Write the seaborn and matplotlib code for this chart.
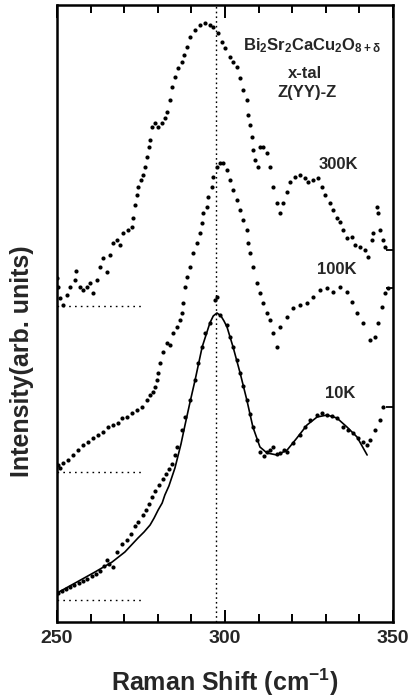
import matplotlib
matplotlib.use("Agg")
import matplotlib.pyplot as plt
import pandas as pd
import seaborn as sns

sns.set_style("ticks")
plt.rcParams['font.family'] = ['Liberation Sans', 'DejaVu Sans']
plt.rcParams['mathtext.fontset'] = 'custom'
plt.rcParams['mathtext.rm'] = 'Liberation Sans'
plt.rcParams['mathtext.bf'] = 'Liberation Sans:bold'
plt.rcParams['mathtext.it'] = 'Liberation Sans:italic'

# Raman spectra (intensity in arbitrary units, curves offset)
x_300K = [250.0, 250.3, 250.9, 251.8, 253.0, 253.9, 255.4, 255.7, 256.8, 257.7, 258.9, 259.8,
          260.7, 261.9, 262.8, 263.7, 264.9, 265.8, 266.7, 267.9, 268.8, 269.6, 271.1, 272.3,
          272.6, 273.2, 273.8, 274.1, 275.0, 275.6, 276.2, 276.8, 277.4, 277.7, 278.3, 279.2,
          280.1, 281.2, 282.1, 282.7, 283.6, 284.2, 285.1, 286.0, 287.2, 287.8, 288.7, 289.6,
          291.1, 292.6, 294.0, 295.5, 296.4, 297.9, 299.1, 300.0, 301.5, 302.4, 303.6, 304.5,
          305.4, 306.5, 306.8, 307.4, 308.0, 308.3, 308.9, 309.8, 310.4, 311.3, 312.5, 313.4,
          314.3, 315.5, 316.4, 317.3, 318.5, 319.3, 320.8, 322.3, 323.8, 324.7, 326.2, 327.7,
          328.9, 329.8, 331.3, 332.1, 333.3, 334.2, 335.1, 336.3, 337.8, 338.7, 340.2, 341.7,
          342.6, 343.8, 344.0, 345.2, 345.5, 346.1, 347.0, 347.6]
y_300K = [344, 335, 324, 317, 327, 335, 342, 351, 335, 332, 335, 339,
          329, 342, 355, 364, 350, 367, 379, 382, 377, 389, 392, 395,
          404, 417, 427, 435, 442, 447, 455, 465, 475, 482, 495, 499,
          495, 499, 504, 510, 522, 535, 545, 554, 560, 567, 575, 585,
          592, 597, 599, 597, 595, 589, 580, 574, 565, 560, 555, 544,
          532, 522, 507, 497, 485, 472, 462, 455, 475, 475, 469, 455,
          435, 419, 409, 419, 430, 440, 445, 447, 444, 440, 442, 444,
          435, 427, 419, 412, 404, 400, 392, 384, 385, 377, 375, 372,
          365, 382, 389, 415, 409, 392, 382, 375]

x_100K = [250.3, 250.9, 251.8, 253.3, 254.8, 256.3, 257.7, 259.2, 260.7, 262.2, 263.7, 265.2,
          266.7, 268.2, 269.3, 270.8, 272.3, 273.8, 275.3, 276.8, 277.7, 278.6, 279.2, 279.8,
          280.1, 280.7, 281.5, 282.7, 283.6, 284.5, 285.7, 286.6, 287.2, 287.5, 288.1, 288.7,
          289.6, 290.5, 291.7, 292.6, 293.2, 293.5, 294.6, 294.9, 296.1, 296.4, 297.6, 298.5,
          299.4, 300.6, 301.5, 302.4, 303.6, 304.5, 305.4, 306.5, 306.8, 307.4, 308.3, 309.5,
          310.4, 311.3, 312.5, 313.4, 314.3, 315.5, 316.4, 318.5, 320.2, 322.3, 324.4, 326.2,
          328.3, 330.4, 332.1, 334.2, 336.3, 337.8, 339.3, 341.1, 343.2, 344.6, 345.5, 346.7,
          347.6, 348.5]
y_100K = [157, 154, 159, 162, 167, 172, 177, 180, 184, 187, 190, 195,
          197, 199, 204, 205, 209, 212, 215, 222, 227, 230, 235, 242,
          249, 259, 270, 279, 277, 289, 295, 302, 309, 319, 335, 345,
          355, 369, 379, 389, 399, 409, 415, 425, 435, 445, 455, 459,
          459, 452, 442, 432, 422, 412, 402, 392, 379, 369, 355, 339,
          329, 319, 309, 302, 289, 275, 295, 305, 314, 317, 319, 325,
          332, 334, 330, 335, 330, 320, 309, 299, 282, 285, 299, 315,
          329, 334]

x_10K = [250.3, 251.5, 252.7, 254.0, 255.2, 256.5, 257.8, 259.0, 260.3, 261.6, 262.8, 264.0,
         264.9, 265.5, 266.7, 268.0, 269.3, 270.8, 272.0, 273.2, 274.1, 275.6, 276.5, 277.4,
         278.3, 279.2, 280.4, 281.5, 282.4, 283.3, 284.2, 285.1, 285.7, 287.2, 288.1, 289.6,
         291.1, 292.0, 293.2, 294.0, 295.5, 297.0, 297.6, 298.5, 300.6, 301.5, 302.4, 303.5,
         304.5, 305.5, 306.5, 307.4, 308.3, 309.4, 310.4, 311.5, 312.5, 313.4, 314.3, 315.4,
         316.4, 317.5, 318.5, 320.2, 322.3, 323.8, 325.3, 327.4, 328.9, 330.4, 331.9, 333.3,
         335.1, 336.6, 338.1, 339.6, 341.1, 342.3, 343.2, 344.6, 346.1, 347.0]
y_10K = [29, 31, 33, 35, 37, 39, 41, 43, 46, 48, 51, 56,
         62, 58, 55, 70, 78, 82, 88, 96, 100, 107, 112, 118,
         125, 131, 137, 143, 148, 153, 158, 167, 175, 192, 205, 222,
         242, 259, 275, 289, 299, 322, 325, 307, 297, 285, 275, 262,
         249, 236, 222, 208, 195, 182, 170, 166, 170, 172, 175, 168,
         169, 172, 170, 179, 187, 195, 202, 207, 209, 207, 206, 204,
         195, 192, 189, 184, 180, 177, 182, 192, 202, 215]

x_fit = [250.0, 255.4, 261.3, 266.4, 270.2, 274.1, 275.9, 277.7, 278.9, 280.1, 281.3, 282.1,
         283.3, 284.2, 285.1, 285.7, 286.9, 288.1, 289.6, 291.1, 293.2, 295.5, 296.5, 297.6,
         298.8, 299.7, 300.6, 302.4, 304.5, 306.5, 308.3, 310.4, 312.5, 315.5, 318.5, 321.4,
         324.4, 327.4, 330.4, 333.3, 336.3, 339.3, 342.3]
y_fit = [29, 39, 50, 60, 70, 84, 90, 97, 104, 112, 119, 127,
         136, 145, 154, 162, 178, 197, 220, 242, 275, 299, 306, 309,
         306, 301, 295, 275, 249, 222, 195, 175, 169, 167, 172, 184,
         197, 205, 207, 204, 195, 185, 167]

baseline_levels = [316, 150, 22]
baseline_end = 276.0
peak_line = 297.3
temps = ['300K', '100K', '10K']
temp_label_pos = [(333.6, 457), (333.3, 352), (334.2, 229)]

dots = pd.concat([
    pd.DataFrame({'shift': x_300K, 'intensity': y_300K, 'T': '300K'}),
    pd.DataFrame({'shift': x_100K, 'intensity': y_100K, 'T': '100K'}),
    pd.DataFrame({'shift': x_10K, 'intensity': y_10K, 'T': '10K'}),
])
fit = pd.DataFrame({'shift': x_fit, 'intensity': y_fit})

fig = plt.figure(figsize=(4.11, 7.0), dpi=100)
ax = fig.add_axes([0.1387, 0.1114, 0.8175, 0.8815])

sns.scatterplot(data=dots, x='shift', y='intensity', color='black', s=9,
                linewidth=0, legend=False, ax=ax)
sns.lineplot(data=fit, x='shift', y='intensity', sort=False, color='black',
             lw=1.2, ax=ax)

for lvl in baseline_levels:
    ax.plot([250, baseline_end], [lvl, lvl], color='black', lw=1.0, ls=(0, (1.2, 3.0)))
ax.axvline(peak_line, color='black', lw=1.0, ls=(0, (1.2, 2.2)))

ax.set_xlim(250, 350)
ax.set_ylim(0, 617)
ax.set_xticks([250, 300, 350])
ax.set_xticks(range(250, 351, 10), minor=True)
ax.set_xticklabels(['250', '300', '350'], fontsize=14, fontweight='bold')
ax.set_yticks([215, 334, 372])
ax.set_yticklabels([])
ax.tick_params(axis='x', which='both', direction='in', top=True, bottom=True,
               width=1.4, color='black')
ax.tick_params(axis='x', which='major', length=9, pad=6)
ax.tick_params(axis='x', which='minor', length=6)
ax.tick_params(axis='y', direction='in', left=False, right=True, length=5, width=1.3,
               color='black')
for sp in ax.spines.values():
    sp.set_visible(True)
    sp.set_linewidth(1.8)
    sp.set_color('black')

ax.set_xlabel('')
ax.set_ylabel('')
fig.text(0.547, 0.025, r'Raman Shift (cm$^{\mathbf{-1}}$)', ha='center', va='center',
         fontsize=18, fontweight='bold')
fig.text(0.054, 0.484, 'Intensity(arb. units)', ha='center', va='center', rotation=90,
         fontsize=18, fontweight='bold')

ax.text(325.9, 576, r'$\mathbf{Bi_2Sr_2CaCu_2O_{8+\delta}}$', ha='center', va='center', fontsize=12)
ax.text(323.8, 548, 'x-tal', ha='center', va='center', fontsize=12, fontweight='bold')
ax.text(324.4, 529, 'Z(YY)-Z', ha='center', va='center', fontsize=12, fontweight='bold')
for t, (tx, ty) in zip(temps, temp_label_pos):
    ax.text(tx, ty, t, ha='center', va='center', fontsize=12, fontweight='bold')

fig.savefig('out.png', dpi=100)
